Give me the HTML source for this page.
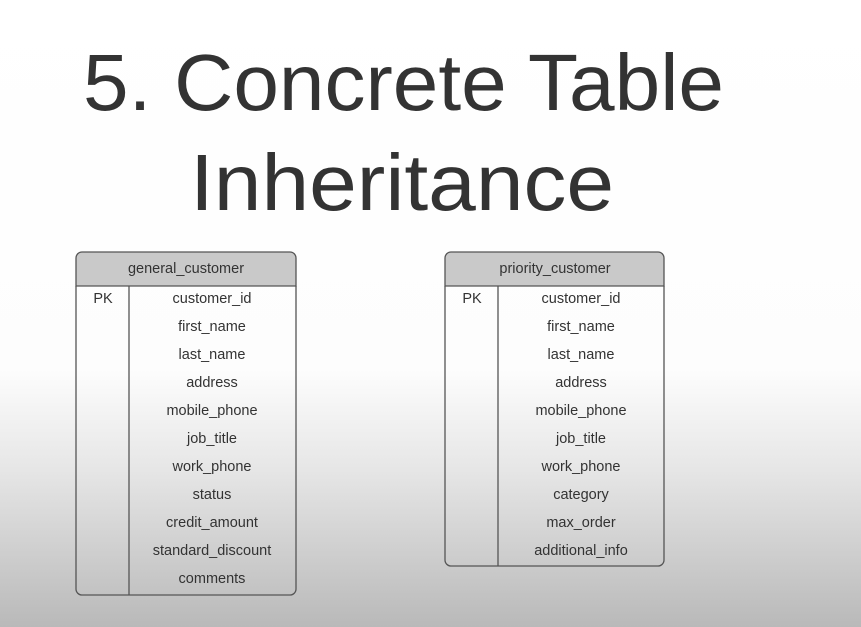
<!DOCTYPE html>
<html><head><style>
html,body{margin:0;padding:0}
body{width:861px;height:627px;overflow:hidden;background:linear-gradient(to bottom,#fff 0px,#fdfdfd 370px,#e6e6e6 470px,#b9b9b9 627px);font-family:"Liberation Sans",sans-serif}
</style></head><body>
<svg width="861" height="627" xmlns="http://www.w3.org/2000/svg" style="position:absolute;left:0;top:0">
<g font-family="Liberation Sans, sans-serif" fill="#333">
<text x="83" y="110" font-size="80" textLength="641" lengthAdjust="spacingAndGlyphs">5. Concrete Table</text>
<text x="190" y="210" font-size="80" textLength="424" lengthAdjust="spacingAndGlyphs">Inheritance</text>
</g>
<g stroke="#555" stroke-width="1.3" fill="none">
<path d="M76,286 V258 a6,6 0 0 1 6,-6 H290 a6,6 0 0 1 6,6 V286 Z" fill="#c9c9c9"/>
<path d="M76,286 V589 a6,6 0 0 0 6,6 H290 a6,6 0 0 0 6,-6 V286"/>
<line x1="129" y1="286" x2="129" y2="595"/>
<path d="M445,286 V258 a6,6 0 0 1 6,-6 H658 a6,6 0 0 1 6,6 V286 Z" fill="#c9c9c9"/>
<path d="M445,286 V560 a6,6 0 0 0 6,6 H658 a6,6 0 0 0 6,-6 V286"/>
<line x1="498" y1="286" x2="498" y2="566"/>
</g>
<g font-family="Liberation Sans, sans-serif" font-size="14.5" fill="#333" text-anchor="middle">
<text x="186" y="273">general_customer</text>
<text x="103" y="303">PK</text>
<text x="212" y="303">customer_id</text>
<text x="212" y="331">first_name</text>
<text x="212" y="359">last_name</text>
<text x="212" y="387">address</text>
<text x="212" y="415">mobile_phone</text>
<text x="212" y="443">job_title</text>
<text x="212" y="471">work_phone</text>
<text x="212" y="499">status</text>
<text x="212" y="527">credit_amount</text>
<text x="212" y="555">standard_discount</text>
<text x="212" y="583">comments</text>
<text x="555" y="273">priority_customer</text>
<text x="472" y="303">PK</text>
<text x="581" y="303">customer_id</text>
<text x="581" y="331">first_name</text>
<text x="581" y="359">last_name</text>
<text x="581" y="387">address</text>
<text x="581" y="415">mobile_phone</text>
<text x="581" y="443">job_title</text>
<text x="581" y="471">work_phone</text>
<text x="581" y="499">category</text>
<text x="581" y="527">max_order</text>
<text x="581" y="555">additional_info</text>
</g>
</svg>
</body></html>
